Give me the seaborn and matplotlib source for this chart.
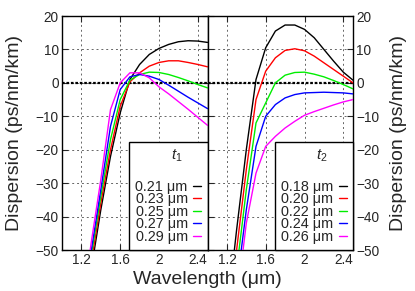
import numpy as np
import pandas as pd
import matplotlib
matplotlib.use("Agg")
import matplotlib.pyplot as plt
import seaborn as sns

# Data

wavelength = [1.2, 1.3, 1.4, 1.5, 1.6, 1.7, 1.8, 1.9, 2.0, 2.1, 2.2, 2.3, 2.4, 2.5]

t1_labels = ["0.21 μm", "0.23 μm", "0.25 μm", "0.27 μm", "0.29 μm"]
t1_021 = [-80, -56, -38, -22, -9, 1.0, 5.5, 8.5, 10.3, 11.5, 12.3, 12.6, 12.5, 12.1]
t1_023 = [-78, -54, -36, -20, -7, 0.3, 3.0, 5.0, 6.1, 6.6, 6.6, 6.1, 5.5, 4.8]
t1_025 = [-76, -52, -34, -17, -5, 0.8, 2.5, 3.2, 3.1, 2.5, 1.6, 0.6, -0.5, -1.5]
t1_027 = [-73, -50.5, -32, -13, -2, 1.8, 2.5, 2.0, 1.0, -0.7, -2.5, -4.3, -6.0, -7.7]
t1_029 = [-70, -48, -29, -8, 0, 3.0, 3.0, 1.5, -1.2, -3.3, -5.6, -7.9, -10.3, -12.7]

t2_labels = ["0.18 μm", "0.20 μm", "0.22 μm", "0.24 μm", "0.26 μm"]
t2_018 = [-70, -44, -20, 1.0, 10.5, 15.5, 17.3, 17.3, 16.0, 13.5, 10.0, 6.5, 3.2, 0.8]
t2_020 = [-75, -50, -26, -5, 3.5, 7.5, 9.7, 10.2, 9.6, 8.0, 6.0, 4.0, 2.0, 0.0]
t2_022 = [-80, -56, -32, -12, -6, 0.0, 2.3, 3.1, 3.2, 2.6, 1.8, 0.7, -0.5, -1.8]
t2_024 = [-85, -61, -38, -19, -10, -6.5, -4.5, -3.5, -3.0, -2.9, -2.8, -2.9, -3.0, -3.3]
t2_026 = [-90, -66, -42, -27, -19, -16, -13.5, -11.5, -9.7, -8.6, -7.6, -6.6, -5.7, -5.0]

colors = ["black", "red", "#00ee00", "blue", "magenta"]

x_ticks = [1.2, 1.6, 2.0, 2.4]
x_tick_labels = ["1.2", "1.6", "2", "2.4"]
y_ticks = [-50, -40, -30, -20, -10, 0, 10, 20]


def long_table(labels, series):
    rows = []
    for lab, ys in zip(labels, series):
        for x, y in zip(wavelength, ys):
            rows.append({"wl": x, "D": y, "t": lab})
    return pd.DataFrame(rows)


df1 = long_table(t1_labels, [t1_021, t1_023, t1_025, t1_027, t1_029])
df2 = long_table(t2_labels, [t2_018, t2_020, t2_022, t2_024, t2_026])

sns.set_style("ticks")
plt.rcParams["font.family"] = ["Liberation Sans", "DejaVu Sans"]
plt.rcParams["mathtext.fontset"] = "custom"
plt.rcParams["mathtext.it"] = "Liberation Sans:italic"
plt.rcParams["mathtext.rm"] = "Liberation Sans"

W, H = 415, 291
fig = plt.figure(figsize=(W / 100, H / 100), dpi=100)

ax_l, ax_r, ax_b = 62, 207.5, 250
ax_w, ax_h = 145.5, 234
ax1 = fig.add_axes([ax_l / W, (H - ax_b) / H, ax_w / W, ax_h / H])
ax2 = fig.add_axes([ax_r / W, (H - ax_b) / H, ax_w / W, ax_h / H])


def style_axis(ax, df, labels, title, side):
    sns.lineplot(data=df, x="wl", y="D", hue="t", hue_order=labels,
                 palette=colors, linewidth=1, legend=False, ax=ax, zorder=3)
    ax.axhline(0, color="black", lw=1.6, ls=(0, (1.2, 0.8)), zorder=2)
    ax.set_xlim(1.0, 2.5)
    ax.set_ylim(-50, 20)
    ax.set_xticks(x_ticks)
    ax.set_xticklabels(x_tick_labels)
    ax.set_yticks(y_ticks)
    ax.grid(True, color="#666666", lw=0.7, ls=(0, (2, 3)))
    ax.set_xlabel("")
    ax.set_ylabel("")
    for s in ax.spines.values():
        s.set_color("black")
        s.set_linewidth(1)
    ax.tick_params(direction="in", length=4, width=0.8, top=True,
                   right=True, labelsize=9.8, pad=2.5)
    if side == "right":
        ax.tick_params(labelleft=False, labelright=True)
    leg = ax.legend(ax.get_lines()[:5], labels, loc="lower right",
                    title=title, markerfirst=False, frameon=True,
                    fancybox=False, edgecolor="black", borderaxespad=0,
                    handlelength=0.55, handletextpad=0.4, labelspacing=-0.1,
                    borderpad=0.42, fontsize=10.4, title_fontsize=11)
    leg.get_frame().set_linewidth(1)
    leg.get_frame().set_alpha(1)
    leg._legend_box.sep = 11
    leg.set_zorder(5)


style_axis(ax1, df1, t1_labels, r"$\quad\;t_1$", "left")
style_axis(ax2, df2, t2_labels, r"$\quad\;t_2$", "right")

fig.text(15 / W, 1 - 133 / H, "Dispersion (ps/nm/km)", rotation=90,
         ha="center", va="center", fontsize=14)
fig.text(398 / W, 1 - 133 / H, "Dispersion (ps/nm/km)", rotation=90,
         ha="center", va="center", fontsize=14)
fig.text(207 / W, 1 - 284 / H, "Wavelength (μm)", ha="center",
         va="baseline", fontsize=14)

fig.savefig("out.png", dpi=100)
